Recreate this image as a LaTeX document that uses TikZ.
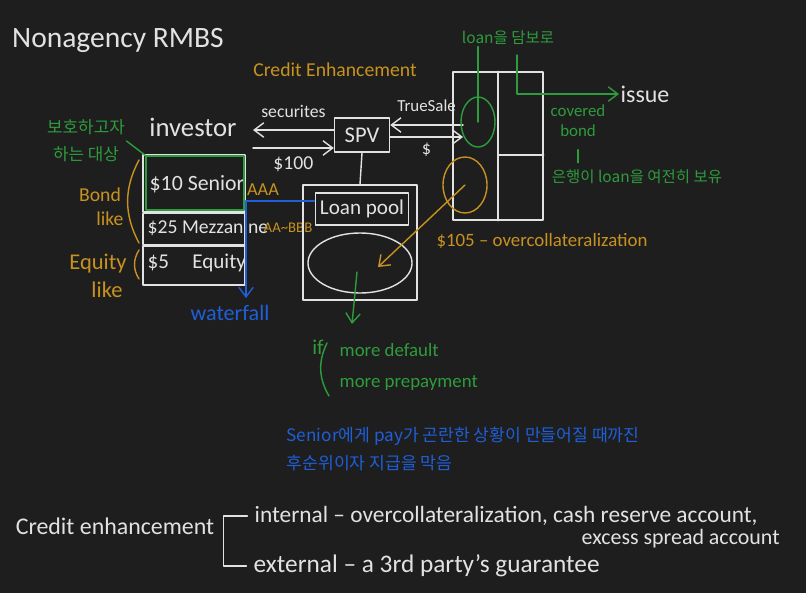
\documentclass[tikz,border=0pt]{standalone}
\usepackage{fontspec}
\setmainfont{Carlito}
\newfontfamily\krfont{Noto Sans CJK KR}
\usepackage{tikz}
\usetikzlibrary{arrows.meta,positioning,shapes.geometric,calc,backgrounds}
\definecolor{BoardBg}{HTML}{1E1E1E}
\definecolor{Chalk}{HTML}{E2E2E2}
\definecolor{PenAmber}{HTML}{C8921E}
\definecolor{PenGreen}{HTML}{2E9C3C}
\definecolor{PenBlue}{HTML}{1F5FD8}
\tikzset{
  chalktext/.style={text=Chalk, inner sep=1pt},
  ambertext/.style={text=PenAmber, inner sep=1pt},
  greentext/.style={text=PenGreen, inner sep=1pt},
  bluetext/.style={text=PenBlue, inner sep=1pt},
  chalkline/.style={draw=Chalk, line width=1pt, line cap=round, line join=round},
  amberline/.style={draw=PenAmber, line width=1pt, line cap=round},
  greenline/.style={draw=PenGreen, line width=1pt, line cap=round, line join=round},
  blueline/.style={draw=PenBlue, line width=1pt, line cap=round, line join=round},
  wire/.style={-{Straight Barb[length=2.4mm,width=3.6mm]}},
  tranche/.style={chalkline, minimum width=25.5mm, inner sep=0pt},
  vehicle/.style={chalkline, minimum width=13.75mm, minimum height=8.5mm,
    text=Chalk, inner sep=0pt},
  blob/.style={ellipse, inner sep=0pt}
}
\newcommand{\hand}[2]{\fontsize{#1}{#2}\selectfont}

\begin{document}
\begin{tikzpicture}[x=0.025cm, y=-0.025cm]
  \path[use as bounding box, fill=BoardBg] (0,0) rectangle (806,593);

  \node[chalktext, font=\hand{21}{24}] (title) at (118,40) {Nonagency RMBS};
  \node[ambertext, font=\hand{14}{16}] (enhance) at (335,70) {Credit Enhancement};

  % investor side and the tranches
  \node[chalktext, font=\hand{19}{22}] (investor) at (193,127) {investor};
  \node[tranche, minimum height=14.25mm] (senior) at (194,183.5) {};
  \node[tranche, minimum height=7.75mm, below=0pt of senior] (mezz) {};
  \node[tranche, minimum height=9.75mm, below=0pt of mezz] (equity) {};
  \node[chalktext, font=\hand{15.5}{18}, anchor=west] (seniorlbl) at (148,184) {\$10 Senior};
  \node[chalktext, font=\hand{14}{17}, anchor=west] (mezzlbl) at (146,228) {\$25 Mezzanine};
  \node[chalktext, font=\hand{15}{18}, anchor=west] (equitylbl) at (146,263) {\$5\hspace{1.1em}Equity};
  \node[greenline, draw, minimum width=24.5mm, minimum height=13.5mm] (guard) at (195,183) {};
  \node[greentext, font={\krfont\hand{12}{19}}, align=center] (protect) at (86,141) {보호하고자\\하는 대상};
  \draw[greenline] (protect.east) -- (guard.north west);

  \node[ambertext, font=\hand{14}{17}, align=center] (bondlike) at (100,207) {Bond\\\hspace{1em}like};
  \node[ambertext, font=\hand{16}{20}, align=center] (equitylike) at (98,276) {Equity\\\hspace{0.8em}like};
  \draw[amberline] (139,160) to[bend right=28] (139,243);
  \draw[amberline] (139,250) to[bend right=32] (139,279);
  \node[ambertext, font=\hand{13}{16}] (aaa) at (263,190) {AAA};
  \node[ambertext, font=\hand{10.5}{12}] (aabbb) at (288,228) {AA\textasciitilde BBB};

  % SPV and the flows
  \node[vehicle, font=\hand{16}{18}] (spv) at (362,135) {SPV};
  \coordinate (invTop) at (253,130);
  \coordinate (invBot) at (253,148);
  \draw[chalkline, wire] (spv.west |- invTop) -- node[chalktext, font=\hand{12.6}{15}, above=7pt] (securities) {securites} (invTop);
  \draw[chalkline, wire] (invBot) -- node[chalktext, font=\hand{14}{17}, below=5pt] (price) {\$100} (spv.west |- invBot);
  \coordinate (bankTop) at (463,125);
  \coordinate (bankBot) at (463,137);
  \draw[chalkline, wire] (bankTop) -- node[chalktext, font=\hand{12}{15}, above=8pt] (truesale) {TrueSale} (spv.east |- bankTop);
  \draw[chalkline, wire] (spv.east |- bankBot) -- node[chalktext, font=\hand{13}{15}, below=3pt] (cash) {\$} (bankBot);

  % loan pool
  \node[chalkline, draw, minimum width=28.5mm, minimum height=28.75mm] (poolbox) at (360,242.5) {};
  \node[chalkline, draw, minimum width=22.25mm, minimum height=8mm, text=Chalk,
    font=\hand{15}{18}] (poollabel) at (362,209) {Loan pool};
  \node[blob, chalkline, draw, minimum width=26mm, minimum height=15mm] (pool) at (360,263) {};
  \draw[chalkline] (spv.south) -- (poolbox.north);

  % waterfall
  \coordinate (fallTop) at (246,201);
  \coordinate (fallEnd) at (246,298);
  \node[bluetext, font=\hand{15.7}{18}] (waterfall) at (230,313) {waterfall};
  \draw[blueline, wire] (poollabel.west |- fallTop) -- (fallTop) -- (fallEnd);

  % bank balance sheet
  \node[chalkline, draw, minimum width=22.5mm, minimum height=37mm] (bank) at (498,146) {};
  \draw[chalkline] (bank.north) -- (bank.south);
  \draw[chalkline] ($(bank.north)!0.56!(bank.south)$) -- ($(bank.north east)!0.56!(bank.south east)$);
  \node[blob, greenline, draw, minimum width=8.5mm, minimum height=12.5mm] (collat) at (478,122) {};
  \node[blob, amberline, draw, minimum width=11mm, minimum height=14mm] (reserve) at (465,185) {};
  \coordinate (poolIn) at (378,267);
  \draw[amberline, wire] (reserve.center) -- (poolIn);
  \node[ambertext, font=\hand{13.4}{16}] (overcoll) at (542,241) {\$105 -- overcollateralization};

  % covered bond
  \node[greentext, font={\krfont\hand{11}{12}}] (loanlbl) at (508,38) {loan을 담보로};
  \draw[greenline] (loanlbl.south -| collat) -- (collat.center);
  \node[chalktext, font=\hand{17}{20}] (issue) at (645,94) {issue};
  \coordinate (bondTop) at (517,55);
  \draw[greenline, wire] (bondTop) |- (issue.west);
  \node[greentext, font=\hand{12}{14}, align=center] (covered) at (578,121) {covered\\bond};
  \node[greentext, font={\krfont\hand{11}{12}}] (remark) at (637,177) {은행이 loan을 여전히 보유};
  \draw[greenline, shorten <=8pt, shorten >=4pt] (covered.south) -- (covered.south |- remark.north);

  % defaults and prepayments
  \coordinate (dropStart) at (357,272);
  \coordinate (dropEnd) at (352,324);
  \draw[greenline, wire] (dropStart) -- (dropEnd);
  \node[greentext, font=\hand{15}{17}] (iftext) at (318,347) {if};
  \draw[greenline] (327,343) to[bend right=28] (329,396);
  \node[greentext, font=\hand{13.4}{16}, anchor=west] (moredefault) at (338,350) {more default};
  \node[greentext, font=\hand{13.4}{16}, anchor=west] (moreprepay) at (338,383) {more prepayment};

  \node[bluetext, font={\krfont\hand{12.2}{20.5}}, align=left, anchor=north west] (note) at (285,425)
    {Senior에게 pay가 곤란한 상황이 만들어질 때까진\\후순위이자 지급을 막음};

  % summary
  \node[chalktext, font=\hand{17}{20}] (ce) at (115,526) {Credit enhancement};
  \node[chalktext, font=\hand{16.6}{20}, anchor=west] (internal) at (253,516)
    {internal -- overcollateralization, cash reserve account,};
  \node[chalktext, font=\hand{15.6}{19}, anchor=west] (excess) at (580,539) {excess spread account};
  \node[chalktext, font=\hand{18}{21}, anchor=west] (external) at (252,566)
    {external -- a 3rd party's guarantee};
  \draw[chalkline] ([xshift=-4pt]internal.west) -- ++(-24,0) |- ([xshift=-4pt]external.west);
\end{tikzpicture}
\end{document}
